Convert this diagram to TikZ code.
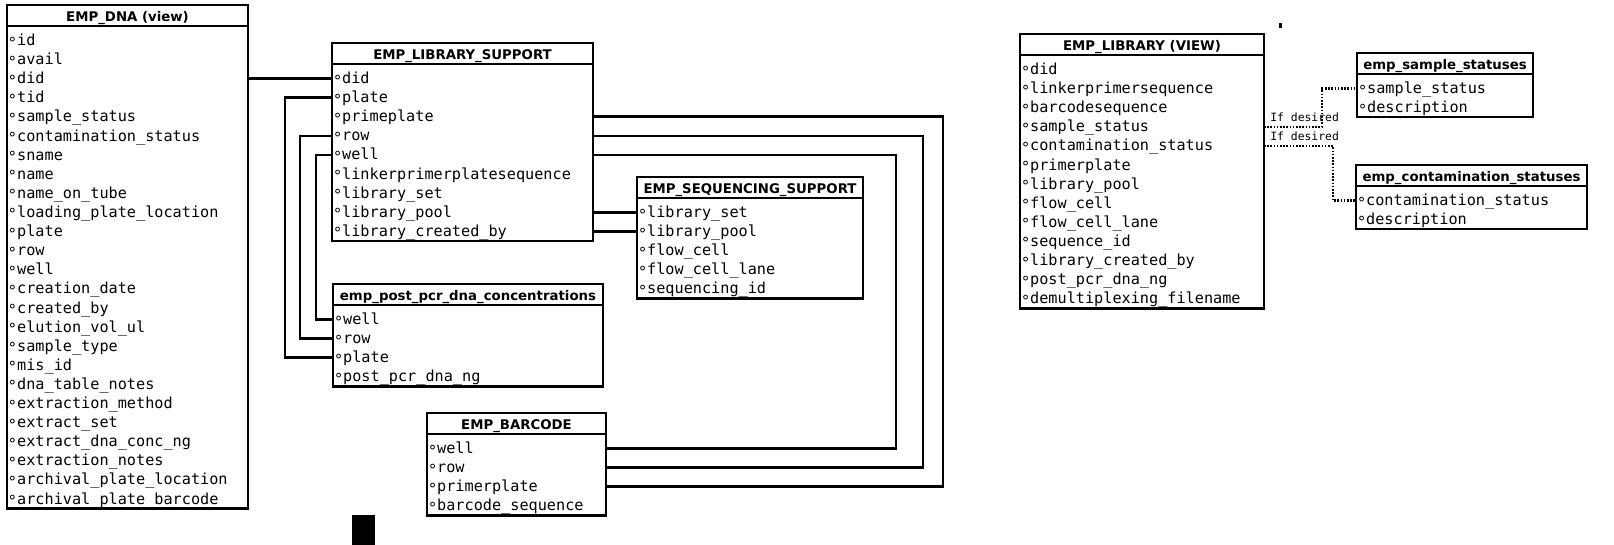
\documentclass[tikz,border=0pt]{standalone}
\usepackage{fontspec}
\setmainfont{DejaVu Sans}
\setmonofont{DejaVu Sans Mono}
\usetikzlibrary{positioning}

\newcommand{\fmark}{\raisebox{-2.5pt}{°}}

\begin{document}
\begin{tikzpicture}[x=1pt,y=-1pt,line width=2.6pt,
tblhead/.style={draw,rectangle,outer sep=0pt,inner sep=0pt,anchor=north west,
    minimum width=#1,minimum height=21pt,text height=12pt,text depth=0pt,
    font=\fontsize{13.3}{14}\selectfont\bfseries},
fld/.style={rectangle,outer sep=0pt,inner xsep=1pt,inner ysep=0pt,
    text width=#1,text height=14.6pt,text depth=4.5pt,align=left,
    font=\fontsize{15.2}{16}\selectfont\ttfamily},
optlink/.style={line width=2.2pt,dash pattern=on 1.6pt off 1.6pt},
optlabel/.style={inner sep=0pt,anchor=base west,font=\fontsize{11.4}{12}\selectfont\ttfamily}]
\useasboundingbox (0,0) rectangle (1614,545);

% EMP_DNA
\node[tblhead=241pt] (dna-0) at (7,5) {EMP\_DNA (view)};
\foreach \f [count=\i] in {id,avail,did,tid,sample\_status,contamination\_status,sname,name,
    name\_on\_tube,loading\_plate\_location,plate,row,well,creation\_date,created\_by,
    elution\_vol\_ul,sample\_type,mis\_id,dna\_table\_notes,extraction\_method,extract\_set,
    extract\_dna\_conc\_ng,extraction\_notes,archival\_plate\_location,archival\_plate\_barcode} {
  \pgfmathtruncatemacro\j{\i-1}
  \pgfmathsetmacro\g{\i==1 ? 5 : 0}
  \node[fld=239pt,below=\g pt of dna-\j] (dna-\i) {\fmark\f};
}
\draw (dna-0.south west) rectangle (dna-25.south east);

% EMP_LIBRARY_SUPPORT
\node[tblhead=261pt] (ls-0) at (332,43) {EMP\_LIBRARY\_SUPPORT};
\foreach \f [count=\i] in {did,plate,primeplate,row,well,linkerprimerplatesequence,
    library\_set,library\_pool,library\_created\_by} {
  \pgfmathtruncatemacro\j{\i-1}
  \pgfmathsetmacro\g{\i==1 ? 5 : 0}
  \node[fld=259pt,below=\g pt of ls-\j] (ls-\i) {\fmark\f};
}
\draw (ls-0.south west) rectangle (ls-9.south east);

% emp_post_pcr_dna_concentrations
\node[tblhead=270pt] (pcr-0) at (333,284) {emp\_post\_pcr\_dna\_concentrations};
\foreach \f [count=\i] in {well,row,plate,post\_pcr\_dna\_ng} {
  \pgfmathtruncatemacro\j{\i-1}
  \pgfmathsetmacro\g{\i==1 ? 5 : 0}
  \node[fld=268pt,below=\g pt of pcr-\j] (pcr-\i) {\fmark\f};
}
\draw (pcr-0.south west) rectangle (pcr-4.south east);

% EMP_BARCODE
\node[tblhead=179pt] (bc-0) at (427,413) {EMP\_BARCODE};
\foreach \f [count=\i] in {well,row,primerplate,barcode\_sequence} {
  \pgfmathtruncatemacro\j{\i-1}
  \pgfmathsetmacro\g{\i==1 ? 5 : 0}
  \node[fld=177pt,below=\g pt of bc-\j] (bc-\i) {\fmark\f};
}
\draw (bc-0.south west) rectangle (bc-4.south east);

% EMP_SEQUENCING_SUPPORT
\node[tblhead=226pt] (sq-0) at (637,177) {EMP\_SEQUENCING\_SUPPORT};
\foreach \f [count=\i] in {library\_set,library\_pool,flow\_cell,flow\_cell\_lane,sequencing\_id} {
  \pgfmathtruncatemacro\j{\i-1}
  \pgfmathsetmacro\g{\i==1 ? 5 : 0}
  \node[fld=224pt,below=\g pt of sq-\j] (sq-\i) {\fmark\f};
}
\draw (sq-0.south west) rectangle (sq-5.south east);

% EMP_LIBRARY (VIEW)
\node[tblhead=244pt] (lib-0) at (1020,34) {EMP\_LIBRARY (VIEW)};
\foreach \f [count=\i] in {did,linkerprimersequence,barcodesequence,sample\_status,
    contamination\_status,primerplate,library\_pool,flow\_cell,flow\_cell\_lane,sequence\_id,
    library\_created\_by,post\_pcr\_dna\_ng,demultiplexing\_filename} {
  \pgfmathtruncatemacro\j{\i-1}
  \pgfmathsetmacro\g{\i==1 ? 5 : 0}
  \node[fld=242pt,below=\g pt of lib-\j] (lib-\i) {\fmark\f};
}
\draw (lib-0.south west) rectangle (lib-13.south east);

% emp_sample_statuses
\node[tblhead=176pt] (smp-0) at (1357,53) {emp\_sample\_statuses};
\foreach \f [count=\i] in {sample\_status,description} {
  \pgfmathtruncatemacro\j{\i-1}
  \pgfmathsetmacro\g{\i==1 ? 5 : 0}
  \node[fld=174pt,below=\g pt of smp-\j] (smp-\i) {\fmark\f};
}
\draw (smp-0.south west) rectangle (smp-2.south east);

% emp_contamination_statuses
\node[tblhead=231pt] (cst-0) at (1356,165) {emp\_contamination\_statuses};
\foreach \f [count=\i] in {contamination\_status,description} {
  \pgfmathtruncatemacro\j{\i-1}
  \pgfmathsetmacro\g{\i==1 ? 5 : 0}
  \node[fld=229pt,below=\g pt of cst-\j] (cst-\i) {\fmark\f};
}
\draw (cst-0.south west) rectangle (cst-2.south east);

% joins
\draw (ls-1.west -| dna-0.east) -- (ls-1.west);
\draw (ls-2.west) -- ++(-47,0) |- (pcr-3.west);
\draw (ls-4.west) -- ++(-32,0) |- (pcr-2.west);
\draw (ls-5.west) -- ++(-16,0) |- (pcr-1.west);
\draw (ls-3.east) -- ++(350,0) |- (bc-3.east);
\draw (ls-4.east) -- ++(330,0) |- (bc-2.east);
\draw (ls-5.east) -- ++(303,0) |- (bc-1.east);
\draw (sq-1.west -| ls-0.east) -- (sq-1.west);
\draw (sq-2.west -| ls-0.east) -- (sq-2.west);

% optional lookups
\draw[optlink] (lib-4.east) -| ([xshift=-35pt]smp-1.west) -- (smp-1.west);
\draw[optlink] (lib-5.east) -| ([xshift=-23pt]cst-1.west) -- (cst-1.west);
\node[optlabel] (opt-smp) at ([shift={(5pt,5pt)}]lib-4.east) {If desired};
\node[optlabel] (opt-cst) at ([shift={(5pt,5pt)}]lib-5.east) {If desired};

\fill (352,515) rectangle (375,545);
\fill (1279,23) rectangle (1282,28);
\end{tikzpicture}
\end{document}
